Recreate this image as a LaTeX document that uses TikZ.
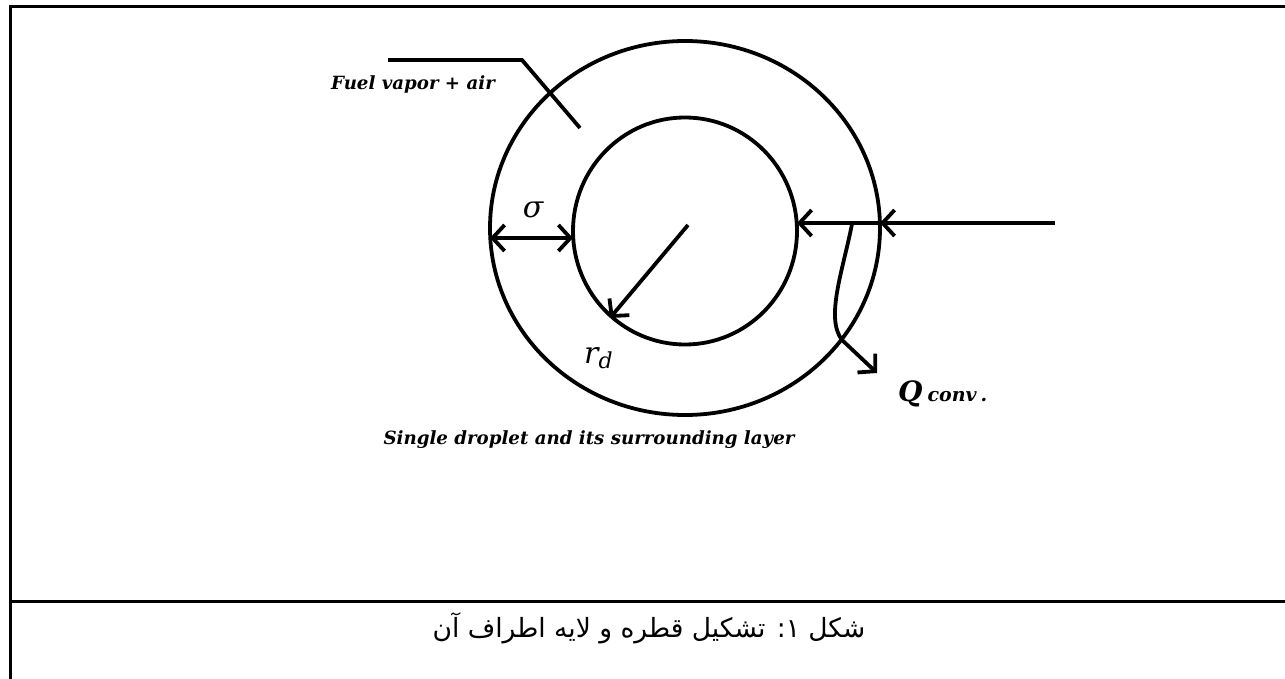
\documentclass[tikz,border=0pt]{standalone}
\usepackage{fontspec}
\setmainfont{DejaVu Serif}
\newfontfamily\arabicfont[Script=Arabic]{DejaVu Sans}
\TeXXeTstate=1
\usetikzlibrary{arrows.meta,shapes.geometric}
\begin{document}
\begin{tikzpicture}[x=1pt,y=-1pt,
  ln/.style={line width=3.8pt},
  barb/.style={-{Straight Barb[length=12pt,width=26pt,line width=3.8pt]}},
  twobarb/.style={{Straight Barb[length=12pt,width=26pt,line width=3.8pt]}-{Straight Barb[length=12pt,width=26pt,line width=3.8pt]}},
  lbl/.style={font=\fontsize{18.2}{22}\selectfont\bfseries\itshape, inner sep=0pt},
  sym/.style={font=\fontsize{30}{32}\selectfont\itshape, inner sep=0pt},
  frame/.style={line width=3pt}]
\useasboundingbox (0,0) rectangle (1285,679);
% frame
\draw[frame] (10,679) -- (10,7) -- (1285,7);
\draw[frame] (10,601) -- (1285,601);
% circles
\node[ellipse, draw, ln, minimum width=390pt, minimum height=374pt, inner sep=0pt] (outer) at (685,228) {};
\node[ellipse, draw, ln, minimum width=224pt, minimum height=227pt, inner sep=0pt] (inner) at (685,231) {};
% sigma
\coordinate (sL) at (490,238);
\coordinate (sR) at (573,238);
\draw[ln, twobarb] (sL) -- (sR);
\node[sym] (sigma) at (533,210) {σ};
% radius
\coordinate (c) at (688,225);
\coordinate (rEnd) at (610,318);
\draw[ln, barb] (c) -- (rEnd);
\node[sym, anchor=base west] (rd) at (584,363) {r\raisebox{-5pt}{\fontsize{22}{24}\selectfont d}};
% incoming heat line
\coordinate (hStart) at (1055,223);
\coordinate (hMid) at (880,223);
\coordinate (hEnd) at (797,223);
\draw[ln, barb] (hStart) -- (hMid);
\draw[ln, barb] (hMid) -- (hEnd);
% Q conv curve
\coordinate (qStart) at (852,224);
\coordinate (qBend) at (842,340);
\coordinate (qEnd) at (877,373);
\draw[ln, barb] (qStart) .. controls (843,270) and (825,318) .. (qBend) -- (qEnd);
\node[inner sep=0pt, anchor=base west] (Q) at (898,401) {\fontsize{28}{30}\selectfont\bfseries\itshape Q\hspace{5pt}\fontsize{19}{20}\selectfont conv\hspace{4pt}.};
% fuel vapor leader
\coordinate (f1) at (388,60);
\coordinate (f2) at (522,60);
\coordinate (f3) at (580,128);
\draw[ln] (f1) -- (f2) -- (f3);
\node[lbl] (fuel) at (413,84) {Fuel vapor + air};
\node[lbl] (single) at (589,440) {Single droplet and its surrounding layer};
% caption
\node[inner sep=0pt, font=\arabicfont\fontsize{26.5}{30}\selectfont] (cap) at (649,628) {\beginR شکل ۱: تشکیل قطره و لایه اطراف آن\endR};
\end{tikzpicture}
\end{document}
